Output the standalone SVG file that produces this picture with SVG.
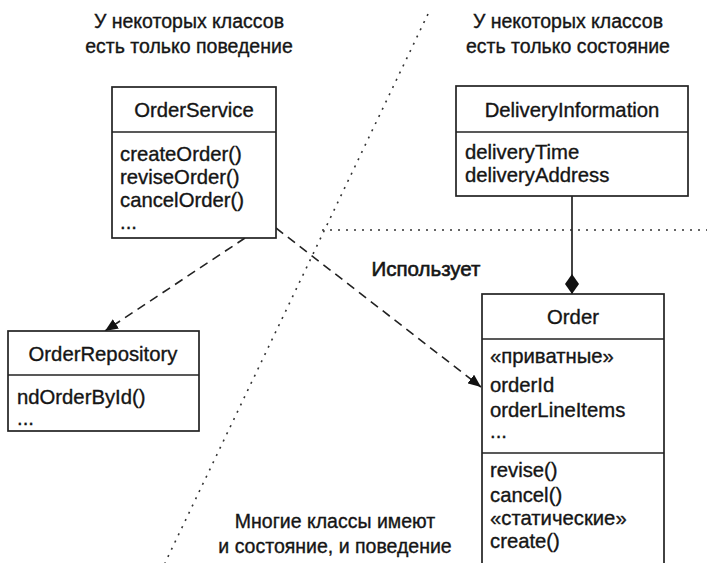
<svg xmlns="http://www.w3.org/2000/svg" width="707" height="563" viewBox="0 0 707 563">
<style>
  text { font-family: "Liberation Sans", Arial, sans-serif; fill: #151515; stroke: #151515; stroke-width: 0.35; }
  .lbl { font-size: 19.5px; text-anchor: middle; }
  .use { font-size: 20.5px; text-anchor: middle; stroke-width: 0.6; }
  .hd { font-size: 20.3px; text-anchor: middle; }
  .it { font-size: 20.3px; }
  .box { fill: #fff; stroke: #222; stroke-width: 1.7; }
  .div { stroke: #222; stroke-width: 1.7; }
  .dot { stroke: #333; stroke-width: 1.6; stroke-dasharray: 2 6; fill: none; }
  .dash { stroke: #222; stroke-width: 1.6; stroke-dasharray: 9 6; fill: none; }
  .solid { stroke: #222; stroke-width: 1.7; fill: none; }
</style>
<defs>
  <marker id="arr" viewBox="0 0 13 11" refX="13" refY="5.5" markerWidth="13" markerHeight="11" markerUnits="userSpaceOnUse" orient="auto">
    <path d="M0,0 L13,5.5 L0,11 Z" fill="#111"/>
  </marker>
  <marker id="dia" viewBox="0 0 20 14" refX="20" refY="7" markerWidth="20" markerHeight="14" markerUnits="userSpaceOnUse" orient="auto">
    <path d="M0,7 L10,0 L20,7 L10,14 Z" fill="#111"/>
  </marker>
</defs>
<rect width="707" height="563" fill="#fff"/>

<g id="separators">
  <line class="dot" x1="428" y1="14" x2="165" y2="563"/>
  <line class="dot" x1="322" y1="230" x2="707" y2="230"/>
</g>

<g id="labels">
  <text class="lbl" x="189" y="28">У некоторых классов</text>
  <text class="lbl" x="189" y="53">есть только поведение</text>
  <text class="lbl" x="568" y="28">У некоторых классов</text>
  <text class="lbl" x="568" y="53">есть только состояние</text>
  <text class="use" x="426" y="276">Использует</text>
  <text class="lbl" x="335" y="528">Многие классы имеют</text>
  <text class="lbl" x="335" y="553">и состояние, и поведение</text>
</g>

<g id="connectors">
  <line class="dash" x1="245" y1="238" x2="105" y2="331" marker-end="url(#arr)"/>
  <line class="dash" x1="276" y1="228" x2="481" y2="387" marker-end="url(#arr)"/>
  <line class="solid" x1="572" y1="196" x2="572" y2="294" marker-end="url(#dia)"/>
</g>

<g id="OrderService">
  <rect class="box" x="112" y="87" width="164" height="151"/>
  <line class="div" x1="112" y1="132" x2="276" y2="132"/>
  <text class="hd" x="194" y="117">OrderService</text>
  <text class="it" x="120" y="161">createOrder()</text>
  <text class="it" x="120" y="184">reviseOrder()</text>
  <text class="it" x="120" y="207">cancelOrder()</text>
  <text class="it" x="120" y="229">...</text>
</g>

<g id="DeliveryInformation">
  <rect class="box" x="456" y="86" width="232" height="110"/>
  <line class="div" x1="456" y1="132" x2="688" y2="132"/>
  <text class="hd" x="572" y="117">DeliveryInformation</text>
  <text class="it" x="465" y="159">deliveryTime</text>
  <text class="it" x="465" y="182">deliveryAddress</text>
</g>

<g id="OrderRepository">
  <rect class="box" x="8" y="331" width="191" height="100"/>
  <line class="div" x1="8" y1="375" x2="199" y2="375"/>
  <text class="hd" x="103" y="361">OrderRepository</text>
  <text class="it" x="17" y="404">ndOrderById()</text>
  <text class="it" x="17" y="425">...</text>
</g>

<g id="Order">
  <rect class="box" x="482" y="294" width="182" height="280"/>
  <line class="div" x1="482" y1="339" x2="664" y2="339"/>
  <line class="div" x1="482" y1="453" x2="664" y2="453"/>
  <text class="hd" x="573" y="324">Order</text>
  <text class="it" x="490" y="363">«приватные»</text>
  <text class="it" x="490" y="392">orderId</text>
  <text class="it" x="490" y="417">orderLineItems</text>
  <text class="it" x="490" y="438">...</text>
  <text class="it" x="490" y="477">revise()</text>
  <text class="it" x="490" y="502">cancel()</text>
  <text class="it" x="490" y="525">«статические»</text>
  <text class="it" x="490" y="548">create()</text>
</g>
</svg>
